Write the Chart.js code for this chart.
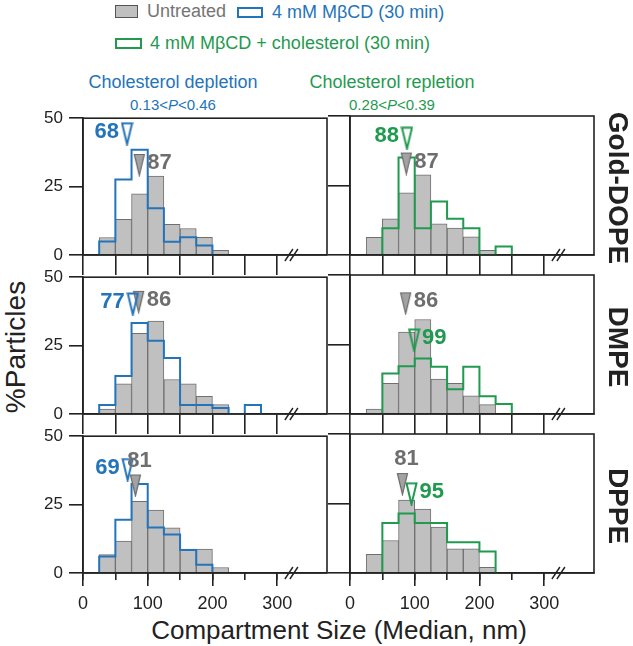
<!DOCTYPE html>
<html>
<head>
<meta charset="utf-8">
<script src="https://cdn.jsdelivr.net/npm/chart.js@4.4.1/dist/chart.umd.min.js"></script>
<style>
  body { margin: 0; background: #fff; }
  #fig { position: relative; width: 633px; height: 646px; overflow: hidden;
         font-family: "Liberation Sans", Arial, sans-serif; }
  #fig canvas { position: absolute; }
  .txt { position: absolute; white-space: nowrap; line-height: 1; }
  .box { position: absolute; box-sizing: border-box; }
</style>
</head>
<body>
<div id="fig">
  <div class="box" style="left:115px;top:5px;width:23px;height:13px;background:#c0c0c0;border:1.5px solid #555;"></div>
  <div class="txt" style="left:147px;top:11px;transform:translateY(-50%);font-size:18px;color:#747474;">Untreated</div>
  <div class="box" style="left:237px;top:7px;width:26px;height:11px;border:2px solid #2474b9;"></div>
  <div class="txt" style="left:272px;top:12px;transform:translateY(-50%);font-size:18px;color:#2474b9;">4 mM MβCD (30 min)</div>
  <div class="box" style="left:115px;top:38px;width:27px;height:11px;border:2px solid #1f9a4f;"></div>
  <div class="txt" style="left:150px;top:43px;transform:translateY(-50%);font-size:18px;color:#1f9a4f;">4 mM MβCD + cholesterol (30 min)</div>

  <div class="txt" style="left:173px;top:82px;transform:translate(-50%,-50%);font-size:18px;color:#2474b9;">Cholesterol depletion</div>
  <div class="txt" style="left:173px;top:104px;transform:translate(-50%,-50%);font-size:15px;color:#2474b9;">0.13&lt;<i>P</i>&lt;0.46</div>
  <div class="txt" style="left:392px;top:82px;transform:translate(-50%,-50%);font-size:18px;color:#1f9a4f;">Cholesterol repletion</div>
  <div class="txt" style="left:392px;top:104px;transform:translate(-50%,-50%);font-size:15px;color:#1f9a4f;">0.28&lt;<i>P</i>&lt;0.39</div>

  <div class="txt" style="left:16px;top:347px;transform:translate(-50%,-50%) rotate(-90deg);font-size:28px;color:#222;">%Particles</div>
  <div class="txt" style="left:339px;top:630px;transform:translate(-50%,-50%);font-size:26px;color:#222;">Compartment Size (Median, nm)</div>
</div>

<script>
var BLUE = '#2474b9', GREEN = '#1f9a4f', GREY_TXT = '#6e6e6e', INK = '#222';

// histogram bins are 25 nm wide, first bin starts at 25 nm
var binStart = 25;
var binWidth = 25;
var lipids = ['Gold-DOPE', 'DMPE', 'DPPE'];
var yTicks = [0, 25, 50];
var xTickLabels = [0, 100, 200, 300];

// % particles per bin
var untreatedDOPE = [6.4, 13.0, 22.4, 28.8, 11.2, 9.7, 6.5, 1.7];
var depletedDOPE  = [4.9, 27.6, 38.5, 17.1, 4.8, 6.5, 3.5];
var repletedDOPE  = [0, 9.6, 35.1, 9.6, 19.2, 13.0, 9.6, 0, 3.1];

var untreatedDMPE = [1.8, 11.0, 29.5, 34.0, 12.6, 11.0, 6.5, 3.4];
var depletedDMPE  = [3.3, 13.9, 33.3, 26.8, 20.5, 3.3, 3.3, 2.2, 0, 3.3];
var repletedDMPE  = [0, 14.6, 17.2, 20.0, 17.0, 8.9, 17.0, 6.4, 3.6];

var untreatedDPPE = [6.7, 11.7, 26.2, 23.0, 16.5, 8.7, 8.7, 2.0];
var depletedDPPE  = [6.0, 19.5, 32.5, 16.6, 14.1, 8.4, 3.0];
var repletedDPPE  = [0, 18.0, 21.4, 18.0, 18.0, 11.1, 11.1, 7.7];

// medians (nm) and the height (%) where each arrow sits
var untreatedMedian = [87, 86, 81];
var depletedMedian  = [68, 77, 69];
var repletedMedian  = [88, 99, 95];
var untreatedArrowL = [32.9, 41.0, 32.0];
var untreatedArrowR = [32.9, 39.8, 32.0];
var depletedArrow   = [44.3, 40.2, 37.8];
var repletedArrow   = [42.0, 26.6, 28.5];

var untreated = [untreatedDOPE, untreatedDMPE, untreatedDPPE];
var depleted = [depletedDOPE, depletedDMPE, depletedDPPE];
var repleted = [repletedDOPE, repletedDMPE, repletedDPPE];

var PLOT_W = 244, PLOT_H = 139, X_MAX = 377;
var colLeft = [83, 350];
var rowTop = [116, 275, 434];

function barPoints(vals) {
    return vals.map(function (v, i) {
        return { x: binStart + binWidth * (i + 0.5), y: v };
    });
}

function outlinePoints(vals) {
    var first = vals.findIndex(function (v) { return v > 0; });
    var pts = [{ x: binStart + binWidth * first, y: 0 }];
    for (var i = first; i < vals.length; i++) {
        pts.push({ x: binStart + binWidth * (i + 1), y: vals[i] });
    }
    pts.push({ x: binStart + binWidth * vals.length, y: 0 });
    return pts;
}

function arrowImage(stroke, fill) {
    var c = document.createElement('canvas');
    c.width = 13; c.height = 24;
    var g = c.getContext('2d');
    g.beginPath();
    g.moveTo(1.5, 1.5); g.lineTo(11.5, 1.5); g.lineTo(6.5, 22.5); g.closePath();
    if (fill) { g.fillStyle = fill; g.fill(); }
    g.strokeStyle = stroke; g.lineWidth = fill ? 1.2 : 2;
    g.stroke();
    return c;
}
var greyArrow = arrowImage('#6a6a6a', '#a3a3a3');
var blueArrow = arrowImage(BLUE);
var greenArrow = arrowImage(GREEN);

var medianLabels = {
    id: 'medianLabels',
    afterDatasetsDraw: function (chart) {
        var ctx = chart.ctx;
        chart.data.datasets.forEach(function (ds, i) {
            if (!ds.medianText) return;
            var pt = chart.getDatasetMeta(i).data[0];
            var x = pt.x, y = pt.y - 2;
            ctx.save();
            ctx.font = 'bold 22px "Liberation Sans", Arial, sans-serif';
            ctx.fillStyle = ds.medianColor;
            ctx.textBaseline = 'middle';
            if (ds.labelSide === 'left') { ctx.textAlign = 'right'; x -= 8; }
            else if (ds.labelSide === 'right') { ctx.textAlign = 'left'; x += 8; }
            else { ctx.textAlign = 'center'; x += 4; y -= 23; }
            ctx.fillText(ds.medianText, x, y);
            ctx.restore();
        });
    }
};

var frame = {
    id: 'frame',
    afterDraw: function (chart) {
        var a = chart.chartArea, ctx = chart.ctx;
        ctx.save();
        ctx.strokeStyle = INK;
        ctx.lineWidth = 1.6;
        ctx.strokeRect(a.left, a.top, a.right - a.left, a.bottom - a.top);
        // axis break mark
        var bx = chart.scales.x.getPixelForValue(322), by = a.bottom;
        ctx.lineWidth = 1.4;
        [-2.5, 2.5].forEach(function (d) {
            ctx.beginPath();
            ctx.moveTo(bx + d - 4, by + 6);
            ctx.lineTo(bx + d + 4, by - 6);
            ctx.stroke();
        });
        ctx.restore();
    }
};

function keepTo300(step) {
    return function (s) {
        s.ticks = s.ticks.filter(function (t) { return t.value <= 300 && t.value % step === 0; });
    };
}

function makePanel(row, col) {
    var bottomRow = row === 2;
    var padL = col === 0 ? 83 : 22, padT = 14, padR = 8, padB = bottomRow ? 42 : 20;
    var cv = document.createElement('canvas');
    cv.width = padL + PLOT_W + padR;
    cv.height = padT + PLOT_H + padB;
    cv.style.left = (colLeft[col] - padL) + 'px';
    cv.style.top = (rowTop[row] - padT) + 'px';
    document.getElementById('fig').appendChild(cv);

    var color = col === 0 ? BLUE : GREEN;
    var treatedVals = col === 0 ? depleted[row] : repleted[row];
    var treatedMed = col === 0 ? depletedMedian[row] : repletedMedian[row];
    var treatedY = col === 0 ? depletedArrow[row] : repletedArrow[row];
    var untreatedY = col === 0 ? untreatedArrowL[row] : untreatedArrowR[row];
    var treatedSide = col === 0 ? 'left' : (row === 0 ? 'left' : 'right');

    var scales = {
        x: {
            type: 'linear', min: 0, max: X_MAX, offset: false, weight: 1,
            afterBuildTicks: keepTo300(bottomRow ? 100 : 50),
            ticks: { stepSize: bottomRow ? 100 : 50, display: bottomRow, autoSkip: false, maxRotation: 0,
                     font: { size: 18, family: '"Liberation Sans", Arial' }, color: INK, padding: 7 },
            grid: { offset: false, drawOnChartArea: false, tickLength: bottomRow ? 13 : 20, color: INK, lineWidth: 1.6 },
            border: { display: true, color: INK, width: 1.6 },
            afterFit: function (s) { s.height = padB; }
        },
        y: {
            min: 0, max: 50,
            ticks: { stepSize: 25, display: col === 0, font: { size: 17, family: '"Liberation Sans", Arial' },
                     color: INK, padding: 6 },
            grid: { drawOnChartArea: false, tickLength: col === 0 ? 14 : 22, color: INK, lineWidth: 1.6 },
            border: { display: true, color: INK, width: 1.6 },
            afterFit: function (s) { s.width = padL; }
        }
    };
    if (bottomRow) {
        scales.xMinor = {
            type: 'linear', position: 'bottom', min: 0, max: X_MAX, offset: false, weight: 0,
            afterBuildTicks: keepTo300(50),
            ticks: { stepSize: 50, display: false },
            grid: { offset: false, drawOnChartArea: false, tickLength: 7, color: INK, lineWidth: 1.6 },
            border: { display: false },
            afterFit: function (s) { s.height = 0; }
        };
    }

    new Chart(cv.getContext('2d'), {
        type: 'line',
        data: {
            datasets: [{
                type: 'bar',
                data: barPoints(untreated[row]),
                backgroundColor: '#c0c0c0',
                borderColor: '#6f6f6f',
                borderWidth: 1,
                barPercentage: 1,
                categoryPercentage: 1,
                grouped: false,
                order: 3
            }, {
                type: 'line',
                data: outlinePoints(treatedVals),
                borderColor: color,
                borderWidth: 2,
                stepped: 'after',
                pointRadius: 0,
                fill: false,
                order: 2
            }, {
                type: 'line',
                data: [{ x: untreatedMedian[row], y: untreatedY }],
                showLine: false,
                pointStyle: greyArrow,
                clip: false,
                order: 1,
                medianText: String(untreatedMedian[row]),
                medianColor: GREY_TXT,
                labelSide: bottomRow ? 'above' : 'right'
            }, {
                type: 'line',
                data: [{ x: treatedMed, y: treatedY }],
                showLine: false,
                pointStyle: col === 0 ? blueArrow : greenArrow,
                clip: false,
                order: 0,
                medianText: String(treatedMed),
                medianColor: color,
                labelSide: treatedSide
            }]
        },
        options: {
            responsive: false,
            animation: false,
            devicePixelRatio: 1,
            layout: { padding: { top: padT, right: padR, left: 0, bottom: 0 } },
            plugins: { legend: { display: false }, tooltip: { enabled: false } },
            scales: scales
        },
        plugins: [frame, medianLabels]
    });
}

for (var r = 0; r < 3; r++) {
    makePanel(r, 0);
    makePanel(r, 1);
    var lab = document.createElement('div');
    lab.className = 'txt';
    lab.textContent = lipids[r];
    lab.style.cssText = 'left:618px;top:' + (rowTop[r] + PLOT_H / 2 + 2) + 'px;transform:translate(-50%,-50%) rotate(90deg);' +
        'font-size:28px;font-weight:bold;color:#222;';
    document.getElementById('fig').appendChild(lab);
}
</script>
</body>
</html>
